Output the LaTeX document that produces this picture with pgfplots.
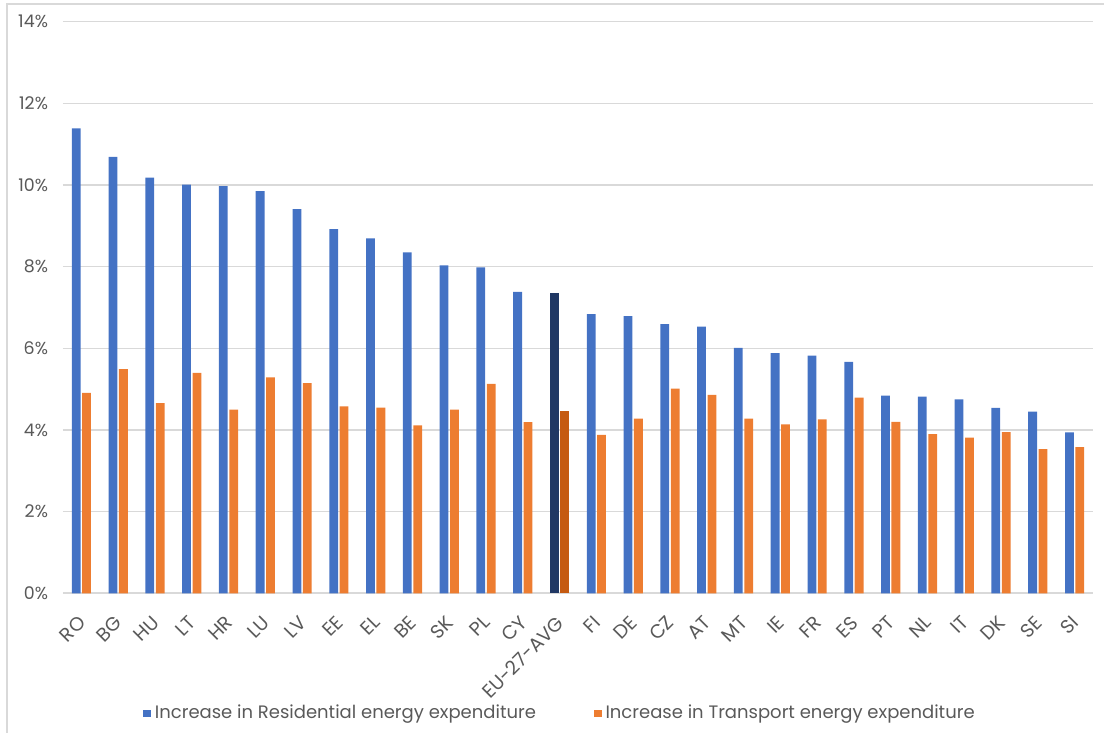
\documentclass[border=0pt]{standalone}
\usepackage{pgfplots}
\pgfplotsset{compat=1.18}
\usepackage{fontspec}
\setmainfont{Poppins}
\definecolor{cblue}{HTML}{4472C4}
\definecolor{corange}{HTML}{ED7D31}
\definecolor{cdblue}{HTML}{203864}
\definecolor{cdorange}{HTML}{C55A11}
\definecolor{ctext}{HTML}{595959}
\definecolor{cgrid}{HTML}{D9D9D9}
\pgfplotstableread{
x res tra
0 11.39 4.91
1 10.69 5.49
2 10.18 4.66
3 10.01 5.40
4 9.97 4.50
5 9.85 5.29
6 9.41 5.15
7 8.92 4.58
8 8.69 4.55
9 8.35 4.11
10 8.03 4.50
11 7.98 5.13
12 7.38 4.19
14 6.84 3.88
15 6.79 4.28
16 6.59 5.01
17 6.53 4.86
18 6.01 4.28
19 5.88 4.14
20 5.82 4.26
21 5.67 4.79
22 4.84 4.20
23 4.82 3.90
24 4.75 3.81
25 4.54 3.95
26 4.45 3.53
27 3.94 3.58
}\countries
\pgfplotstableread{
x res tra
13 7.35 4.47
}\euavg
\begin{document}
\begin{tikzpicture}
\path[use as bounding box] (-31.5bp,-69.85bp) rectangle (520.5bp,296.65bp);
\begin{axis}[
  at={(0,0)}, anchor=south west,
  scale only axis, width=515bp, height=285.8bp,
  xmin=-0.5, xmax=27.5, ymin=0, ymax=14,
  ybar, bar width=4.4bp,
  xtick={0,...,27},
  xticklabels={RO,BG,HU,LT,HR,LU,LV,EE,EL,BE,SK,PL,CY,EU-27-AVG,FI,DE,CZ,AT,MT,IE,FR,ES,PT,NL,IT,DK,SE,SI},
  ytick={0,2,...,14},
  yticklabel={\pgfmathprintnumber{\tick}\%},
  /pgf/number format/assume math mode=true,
  major tick length=0pt,
  ymajorgrids, grid style={draw=cgrid, line width=0.75bp},
  axis x line*=bottom, axis y line*=left,
  x axis line style={draw=cgrid, line width=0.9bp, -},
  y axis line style={draw=none},
  tick label style={text=ctext},
  yticklabel style={xshift=-4bp, font=\fontsize{8.7bp}{10bp}\selectfont},
  xticklabel style={rotate=45, anchor=north east, xshift=-5.5bp, yshift=-2.5bp, font=\fontsize{9.6bp}{11bp}\selectfont},
  legend style={at={(0.4835,-0.21)}, anchor=center, draw=none, fill=none,
    legend columns=2, font=\fontsize{9bp}{10bp}\selectfont, text=ctext,
    /tikz/every even column/.append style={column sep=27bp}},
  legend image code/.code={\fill (0bp,-1.9bp) rectangle (3.8bp,1.9bp);},
]
\addplot[fill=cblue, draw=none, bar shift=-2.6bp] table[x=x,y=res]{\countries};
\addlegendentry{Increase in Residential energy expenditure}
\addplot[fill=corange, draw=none, bar shift=2.6bp] table[x=x,y=tra]{\countries};
\addlegendentry{Increase in Transport energy expenditure}
\addplot[fill=cdblue, draw=none, bar shift=-2.6bp, forget plot] table[x=x,y=res]{\euavg};
\addplot[fill=cdorange, draw=none, bar shift=2.6bp, forget plot] table[x=x,y=tra]{\euavg};
\end{axis}
\draw[cgrid, line width=0.75bp] (-28bp,-69.85bp) -- (-28bp,294.65bp) -- (520.5bp,294.65bp);
\end{tikzpicture}
\end{document}
